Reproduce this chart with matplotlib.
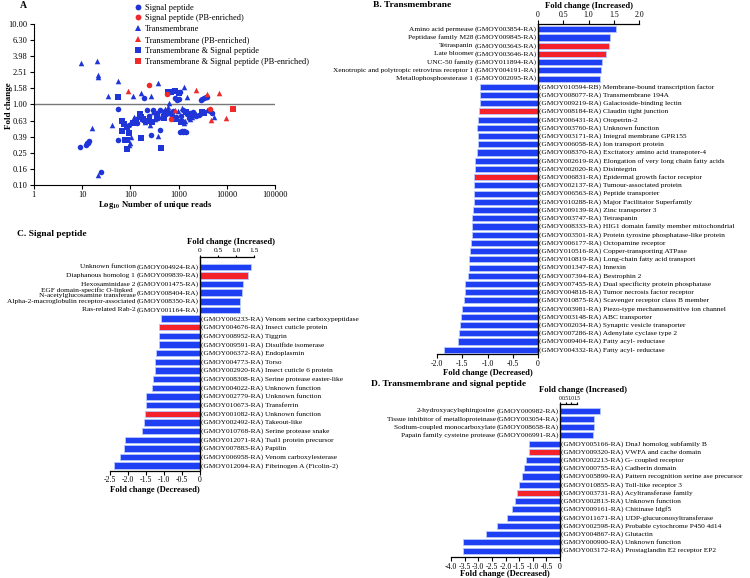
import matplotlib
matplotlib.use('Agg')
import matplotlib.pyplot as plt
import numpy as np
from matplotlib.lines import Line2D

plt.rcParams['font.family'] = 'Liberation Serif'
plt.rcParams['mathtext.fontset'] = 'stix'

# ---------------- data: panel A (scatter) ----------------
sp_reads = [9.2, 12.1, 12.8, 13.5, 14.1, 24.3, 56, 56, 95, 107, 160, 195, 220, 270, 300,
            350, 410, 410, 480, 600, 650, 700, 720, 780, 850, 900, 920, 1000, 1050, 1070,
            1100, 1150, 1200, 1250, 1250, 1300, 1400, 1500, 1600, 2000, 2600, 2900, 3100,
            3200, 3300, 3600, 3800, 4500, 5000, 130, 180, 240, 520, 560, 1700, 2300, 140, 380]
sp_fold = [0.293, 0.316, 0.328, 0.335, 0.348, 0.144, 0.87, 0.36, 0.55, 0.61, 0.70, 1.21, 0.84,
           0.42, 0.86, 0.78, 0.85, 0.48, 0.73, 0.80, 1.42, 0.75, 1.45, 0.82, 1.19, 0.70, 1.13,
           1.17, 1.43, 0.46, 0.72, 0.47, 0.62, 0.46, 0.84, 0.465, 0.45, 0.76, 0.68, 0.80, 0.74,
           1.13, 1.16, 0.80, 1.19, 1.22, 1.24, 0.82, 0.78, 0.66, 0.64, 0.72, 0.82, 0.77, 0.78,
           0.72, 0.58, 0.67]

tm_reads = [9.4, 20, 21, 21.5, 56, 35, 112, 167, 270, 369, 1300, 1460, 750, 16.3, 42, 21, 103,
            93, 97, 380, 120, 250, 330, 450, 520, 800, 1150, 600, 1300, 1350, 1700, 2300, 3900,
            5400, 200, 150, 290, 420, 950, 1900, 2700, 620]
tm_fold = [3.22, 3.41, 2.29, 2.20, 1.96, 1.27, 1.27, 1.37, 1.27, 1.84, 1.62, 1.22, 1.50, 0.51,
           0.55, 0.133, 0.39, 0.31, 0.33, 0.40, 0.70, 0.56, 0.66, 0.74, 0.88, 0.72, 0.90, 0.92,
           0.59, 0.63, 0.65, 0.75, 0.85, 0.69, 0.61, 0.75, 0.80, 0.86, 0.83, 0.70, 0.78, 1.05]

tmsp_reads = [56, 67, 74, 84, 67, 76, 84, 84, 94, 158, 166, 166, 185, 215, 245, 275, 430, 600,
              680, 850, 1000, 3000, 3300, 500, 900, 1100, 1800, 130, 360, 1400, 115]
tmsp_fold = [1.22, 0.62, 0.57, 0.52, 0.47, 0.36, 0.36, 0.28, 0.44, 0.76, 0.70, 0.38, 0.65, 0.63,
             0.62, 0.61, 0.285, 1.42, 1.44, 1.47, 1.40, 0.80, 0.78, 0.68, 0.66, 0.60, 0.72, 0.64,
             0.70, 0.80, 0.58]

sp_pb_reads = [244, 566, 680, 4460]
sp_pb_fold = [1.75, 1.35, 0.65, 0.87]
tm_pb_reads = [91, 2240, 3900, 6760, 4780, 9330, 840]
tm_pb_fold = [1.47, 1.49, 1.33, 1.39, 0.64, 0.67, 0.85]
tmsp_pb_reads = [13500]
tmsp_pb_fold = [0.87]

a_yticks = [0.10, 0.16, 0.25, 0.39, 0.63, 1.00, 1.58, 2.51, 3.98, 6.30, 10.00]
a_xticks = [1, 10, 100, 1000, 10000, 100000]

# ---------------- data: panel B (transmembrane) ----------------
b_up_names = ["Amino acid permease", "Peptidase family M28", "Tetraspanin", "Late bloomer",
              "UNC-50 family", "Xenotropic and polytropic retrovirus receptor 1",
              "Metallophosphoesterase 1"]
b_up_ids = ["GMOY003854-RA", "GMOY009845-RA", "GMOY003643-RA", "GMOY003646-RA",
            "GMOY011894-RA", "GMOY004191-RA", "GMOY002095-RA"]
b_up_vals = [1.535, 1.42, 1.40, 1.35, 1.27, 1.24, 1.22]
b_up_red = [0, 0, 1, 1, 0, 0, 0]

b_dn_ids = ["GMOY010594-RB", "GMOY008077-RA", "GMOY009219-RA", "GMOY008184-RA", "GMOY006431-RA",
            "GMOY003760-RA", "GMOY003171-RA", "GMOY006058-RA", "GMOY008370-RA", "GMOY002619-RA",
            "GMOY002020-RA", "GMOY006831-RA", "GMOY002137-RA", "GMOY006563-RA", "GMOY010288-RA",
            "GMOY009139-RA", "GMOY003747-RA", "GMOY008333-RA", "GMOY003501-RA", "GMOY006177-RA",
            "GMOY010516-RA", "GMOY010819-RA", "GMOY001347-RA", "GMOY007394-RA", "GMOY007455-RA",
            "GMOY004818-RA", "GMOY010875-RA", "GMOY003981-RA", "GMOY003148-RA", "GMOY002034-RA",
            "GMOY007286-RA", "GMOY009404-RA", "GMOY004332-RA"]
b_dn_names = ["Membrane-bound transcription factor", "Transmembrane 194A",
              "Galactoside-binding lectin", "Claudin tight junction", "Otopetrin-2",
              "Unknown function", "Integral membrane GPR155", "Ion transport protein",
              "Excitatory amino acid transpoter-4", "Elongation of very long chain fatty acids",
              "Disintegrin", "Epidermal growth factor receptor", "Tumour-associated protein",
              "Peptide transporter", "Major Facilitator Superfamily", "Zinc transporter 3",
              "Tetraspanin", "HIG1 domain family member mitochondrial",
              "Protein tyrosine phosphatase-like protein", "Octopamine receptor",
              "Copper-transporting ATPase", "Long-chain fatty acid transport", "Innexin",
              "Bestrophin 2", "Dual specificity protein phosphatase",
              "Tumor necrosis factor receptor", "Scavenger receptor class B member",
              "Piezo-type mechanosensitive ion channel", "ABC transporter",
              "Synaptic vesicle transporter", "Adenylate cyclase type 2",
              "Fatty acyl- reductase", "Fatty acyl- reductase"]
b_dn_vals = [-1.14, -1.14, -1.14, -1.17, -1.18, -1.20, -1.19, -1.19, -1.20, -1.24, -1.24, -1.26,
             -1.26, -1.26, -1.27, -1.28, -1.30, -1.30, -1.31, -1.33, -1.34, -1.36, -1.37, -1.38,
             -1.44, -1.45, -1.47, -1.50, -1.52, -1.55, -1.57, -1.59, -1.86]
b_dn_red = [0, 0, 0, 1, 0, 0, 0, 0, 0, 0, 0, 1, 0, 0, 0, 0, 0, 0, 0, 0, 0, 0, 0, 0, 0, 0, 0, 0,
            0, 0, 0, 0, 0]

# ---------------- data: panel C (signal peptide) ----------------
c_up_names = ["Unknown function", "Diaphanous homolog 1", "Hexosaminidase 2",
              "EGF domain-specific O-linked\nN-acetylglucosamine transferase",
              "Alpha-2-macroglobulin receptor-associated", "Ras-related Rab-2"]
c_up_ids = ["GMOY004924-RA", "GMOY009839-RA", "GMOY001475-RA", "GMOY008404-RA",
            "GMOY008350-RA", "GMOY001164-RA"]
c_up_vals = [1.43, 1.32, 1.19, 1.16, 1.12, 1.10]
c_up_red = [0, 1, 0, 0, 0, 0]

c_dn_ids = ["GMOY006233-RA", "GMOY004676-RA", "GMOY008952-RA", "GMOY009591-RA", "GMOY006372-RA",
            "GMOY004773-RA", "GMOY002920-RA", "GMOY008308-RA", "GMOY004022-RA", "GMOY002779-RA",
            "GMOY010673-RA", "GMOY001082-RA", "GMOY002492-RA", "GMOY010768-RA", "GMOY012071-RA",
            "GMOY007883-RA", "GMOY006958-RA", "GMOY012094-RA"]
c_dn_names = ["Venom serine carboxypeptidase", "Insect cuticle protein", "Tiggrin",
              "Disulfide isomerase", "Endoplasmin", "Torso", "Insect cuticle 6 protein",
              "Serine protease easter-like", "Unknown function", "Unknown function",
              "Transferrin", "Unknown function", "Takeout-like", "Serine protease snake",
              "Tsal1 protein precursor", "Papilin", "Venom carboxylesterase",
              "Fibrinogen A (Ficolin-2)"]
c_dn_vals = [-1.07, -1.14, -1.15, -1.15, -1.21, -1.24, -1.25, -1.31, -1.34, -1.49, -1.50, -1.52,
             -1.55, -1.61, -2.09, -2.10, -2.21, -2.38]
c_dn_red = [0, 1, 0, 0, 0, 0, 0, 0, 0, 0, 0, 1, 0, 0, 0, 0, 0, 0]

# ---------------- data: panel D (transmembrane and signal peptide) ----------------
d_up_names = ["2-hydroxyacylsphingosine", "Tissue inhibitor of metalloproteinase",
              "Sodium-coupled monocarboxylate", "Papain family cysteine protease"]
d_up_ids = ["GMOY000982-RA", "GMOY003054-RA", "GMOY008658-RA", "GMOY006991-RA"]
d_up_vals = [1.47, 1.25, 1.25, 1.21]
d_up_red = [0, 0, 0, 0]

d_dn_ids = ["GMOY005166-RA", "GMOY009320-RA", "GMOY002213-RA", "GMOY000755-RA", "GMOY005899-RA",
            "GMOY010855-RA", "GMOY003731-RA", "GMOY002813-RA", "GMOY009161-RA", "GMOY011671-RA",
            "GMOY002598-RA", "GMOY004867-RA", "GMOY000900-RA", "GMOY003172-RA"]
d_dn_names = ["DnaJ homolog subfamily B", "VWFA and cache domain", "G- coupled receptor",
              "Cadherin domain", "Pattern recognition serine ase precursor",
              "Toll-like receptor 3", "Acyltransferase family", "Unknown function",
              "Chitinase Idgf5", "UDP-glucuronosyltransferase", "Probable cytochrome P450 4d14",
              "Glutactin", "Unknown function", "Prostaglandin E2 receptor EP2"]
d_dn_vals = [-1.13, -1.15, -1.23, -1.33, -1.38, -1.49, -1.59, -1.66, -1.75, -1.96, -2.30, -2.72,
             -3.55, -3.55]
d_dn_red = [0, 1, 0, 0, 0, 0, 1, 0, 0, 0, 0, 0, 0, 0]

# ---------------- figure ----------------
W, H = 750, 578
fig = plt.figure(figsize=(7.5, 5.78), dpi=100)

BLUE = '#1f3ff2'
RED = '#f4222a'
EDGE = '#b9c8ff'
SBLUE = '#1f35d8'
SRED = '#ee2a2a'
LFS = 5.35  # bar label font size


def fx(px):
    return px / W


def fy(py):
    return 1 - py / H


# ---- panel A ----
axA = fig.add_axes([fx(33.7), fy(185), (275.3 - 33.7) / W, (185 - 23.7) / H])
axA.set_xscale('log')
axA.set_yscale('log')
axA.axhline(1.0, color='#777777', lw=1.0, zorder=1)
axA.scatter(sp_reads, sp_fold, marker='o', s=16, color=SBLUE, lw=0, zorder=3)
axA.scatter(tm_reads, tm_fold, marker='^', s=16, color=SBLUE, lw=0, zorder=3)
axA.scatter(tmsp_reads, tmsp_fold, marker='s', s=14, color=SBLUE, lw=0, zorder=3)
axA.scatter(sp_pb_reads, sp_pb_fold, marker='o', s=16, color=SRED, lw=0, zorder=4)
axA.scatter(tm_pb_reads, tm_pb_fold, marker='^', s=16, color=SRED, lw=0, zorder=4)
axA.scatter(tmsp_pb_reads, tmsp_pb_fold, marker='s', s=14, color=SRED, lw=0, zorder=4)
axA.set_xlim(1, 100000)
axA.set_ylim(0.1, 10)
axA.set_yticks(a_yticks)
axA.set_yticklabels([f'{v:.2f}' for v in a_yticks])
axA.set_xticks(a_xticks)
axA.set_xticklabels([str(v) for v in a_xticks])
axA.minorticks_off()
for s in ['top', 'right']:
    axA.spines[s].set_visible(False)
for s in ['left', 'bottom']:
    axA.spines[s].set_linewidth(0.8)
axA.tick_params(labelsize=6, length=3, width=0.8, pad=1.5)

legend_items = [('o', SBLUE, 'Signal peptide'), ('o', SRED, 'Signal peptide (PB-enriched)'),
                ('^', SBLUE, 'Transmembrane'), ('^', SRED, 'Transmembrane (PB-enriched)'),
                ('s', SBLUE, 'Transmembrane & Signal peptide'),
                ('s', SRED, 'Transmembrane & Signal peptide (PB-enriched)')]
handles = [Line2D([], [], ls='', marker=m, color=c, markersize=4.2, mew=0)
           for m, c, _ in legend_items]
fig.legend(handles, [l for _, _, l in legend_items], loc='upper left',
           bbox_to_anchor=(fx(134), fy(3.5)), frameon=False, fontsize=6,
           handlelength=1.0, handletextpad=0.3, labelspacing=0.35, borderpad=0,
           borderaxespad=0)

fig.text(fx(23), fy(5.7), 'A', fontsize=7, fontweight='bold', ha='center', va='center')
fig.text(fx(9), fy(106), 'Fold change', fontsize=6.5, fontweight='bold', rotation=90,
         ha='center', va='center')
fig.text(fx(155), fy(205), r'Log$_{\mathbf{10}}$ Number of unique reads', fontsize=6.2,
         fontweight='bold', ha='center', va='center')

# ---- bar panels ----
pending = []


def fmt(v):
    return '0' if v == 0 else f'{v:.1f}'


def bar_panel(rect, xlim, up_names, up_ids, up_vals, up_red, dn_ids, dn_names, dn_vals,
              dn_red, bot_ticks, top_ticks, top_xlim, pad_top, pad_bot, top_fs=5.6,
              top_len=3):
    ax = fig.add_axes(rect)
    vals = up_vals + dn_vals
    red = up_red + dn_red
    rows = np.arange(len(vals))
    ax.barh(rows, vals, height=0.74, color=[RED if r else BLUE for r in red],
            edgecolor=EDGE, linewidth=0.6, zorder=2)
    ax.axvline(0, color='black', lw=1.0, zorder=3)
    ax.set_xlim(*xlim)
    ax.set_ylim(len(vals) - 1 + pad_bot, -pad_top)
    ax.set_yticks([])
    for s in ['top', 'right', 'left']:
        ax.spines[s].set_visible(False)
    ax.spines['bottom'].set_bounds(bot_ticks[0], 0)
    ax.spines['bottom'].set_linewidth(0.9)
    ax.set_xticks(bot_ticks)
    ax.set_xticklabels([fmt(v) for v in bot_ticks])
    ax.tick_params(axis='x', labelsize=5.6, length=3, width=0.8, pad=1)

    ax2 = ax.twiny()
    ax2.set_xlim(*top_xlim)
    for s in ['bottom', 'right', 'left']:
        ax2.spines[s].set_visible(False)
    ax2.spines['top'].set_bounds(0, top_ticks[-1])
    ax2.spines['top'].set_linewidth(0.9)
    ax2.set_xticks(top_ticks)
    ax2.set_xticklabels([fmt(v) for v in top_ticks])
    ax2.tick_params(axis='x', labelsize=top_fs, length=top_len, width=0.8, pad=0.8)

    for i, (nm, gid) in enumerate(zip(up_names, up_ids)):
        t = ax.annotate(f'({gid})', xy=(0, i), xytext=(-1.0, 0), textcoords='offset points',
                        ha='right', va='center', fontsize=LFS, zorder=4)
        pending.append((ax, i, nm, t))
    n_up = len(up_vals)
    for j, (gid, nm) in enumerate(zip(dn_ids, dn_names)):
        ax.annotate(f'({gid}) {nm}', xy=(0, n_up + j), xytext=(1.0, 0),
                    textcoords='offset points', ha='left', va='center', fontsize=LFS,
                    zorder=4)
    return ax


bar_panel([fx(437), fy(354.3), 202 / W, (354.3 - 24) / H], (-2, 2),
          b_up_names, b_up_ids, b_up_vals, b_up_red, b_dn_ids, b_dn_names, b_dn_vals, b_dn_red,
          [-2.0, -1.5, -1.0, -0.5, 0], [0, 0.5, 1.0, 1.5, 2.0], (-2, 2), 0.645, 0.56)

bar_panel([fx(110), fy(470.7), 144 / W, (470.7 - 256.7) / H], (-2.5, 1.5),
          c_up_names, c_up_ids, c_up_vals, c_up_red, c_dn_ids, c_dn_names, c_dn_vals, c_dn_red,
          [-2.5, -2.0, -1.5, -1.0, -0.5, 0], [0, 0.5, 1.0, 1.5], (-2.5, 1.5), 1.156, 0.578,
          top_fs=5.3, top_len=1.8)

bar_panel([fx(451), fy(557.3), 149.9 / W, (557.3 - 404.3) / H], (-4.0, 1.5),
          d_up_names, d_up_ids, d_up_vals, d_up_red, d_dn_ids, d_dn_names, d_dn_vals, d_dn_red,
          [-4.0, -3.5, -3.0, -2.5, -2.0, -1.5, -1.0, -0.5, 0], [0, 0.5, 1.0, 1.5],
          (-9.62, 3.61), 0.767, 0.815, top_fs=4.0, top_len=1.8)

# names placed to the left of their IDs
fig.canvas.draw()
renderer = fig.canvas.get_renderer()
for ax, i, nm, t in pending:
    w = t.get_window_extent(renderer).width * 72 / fig.dpi
    ax.annotate(nm, xy=(0, i), xytext=(-1.0 - w - 0.8, 0), textcoords='offset points',
                ha='right', va='center', fontsize=LFS, multialignment='center',
                linespacing=0.8, zorder=4)

# titles and axis labels of bar panels
for x, y, s in [(372.7, 5.3, 'B. Transmembrane'), (17.3, 234, 'C. Signal peptide'),
                (370.7, 384, 'D. Transmembrane and signal peptide')]:
    fig.text(fx(x), fy(y), s, fontsize=6.8, fontweight='bold', ha='left', va='center')
for x, y, s in [(589, 6.0, 'Fold change (Increased)'), (488.3, 373, 'Fold change (Decreased)'),
                (231, 242.0, 'Fold change (Increased)'), (155, 489.7, 'Fold change (Decreased)'),
                (583.3, 390.0, 'Fold change (Increased)'), (505, 574, 'Fold change (Decreased)')]:
    fig.text(fx(x), fy(y), s, fontsize=6.2, fontweight='bold', ha='center', va='center')

fig.savefig('out.png', dpi=100)
